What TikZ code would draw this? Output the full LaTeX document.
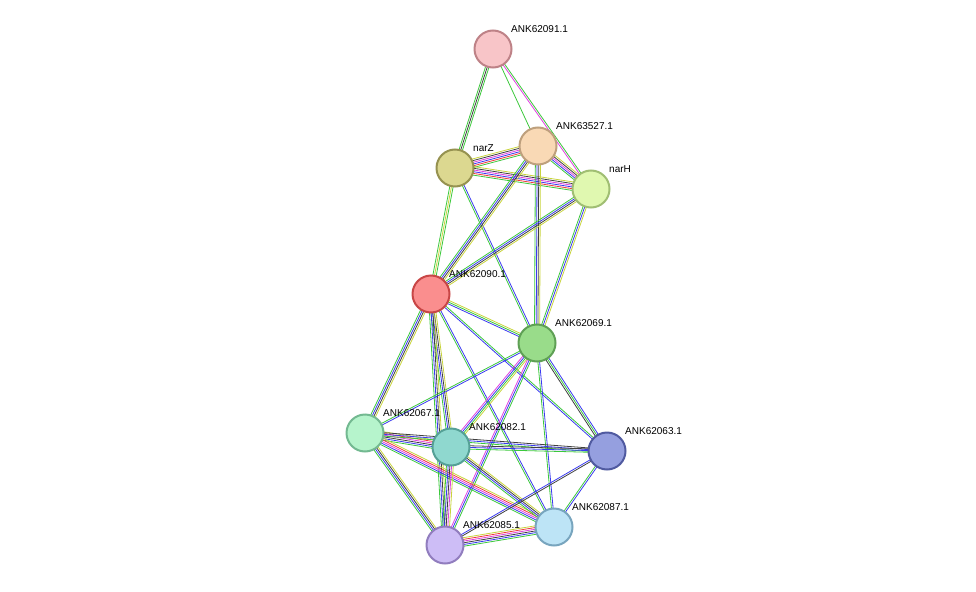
\documentclass[tikz,border=0pt]{standalone}
\usepackage{fontspec}
\setmainfont{Liberation Sans}
\usetikzlibrary{calc}
\definecolor{cg}{HTML}{3CC83C}
\definecolor{cb}{HTML}{3A3AF0}
\definecolor{cy}{HTML}{C8D43C}
\definecolor{cm}{HTML}{E040E0}
\definecolor{cr}{HTML}{F03C3C}
\definecolor{ck}{HTML}{404040}
\tikzset{prot/.style={circle,minimum size=37pt,inner sep=0pt,line width=2pt},
 lab/.style={anchor=south west,font=\fontsize{10}{11}\selectfont,inner sep=0pt},
 ln/.style={line width=0.8pt}}
\newcommand\edg[3]{%
 \foreach \c [count=\i] in {#3}{\xdef\nn{\i}}%
 \foreach \c [count=\i] in {#3}{\pgfmathsetmacro\o{(\i-(\nn+1)/2)*1.7}%
  \draw[ln,color=c\c] ($(#1)!\o pt!90:(#2)$) -- ($(#2)!\o pt!-90:(#1)$);}}
\begin{document}
\begin{tikzpicture}[x=1pt,y=-1pt]
\useasboundingbox (0,0) rectangle (976,591);
\coordinate (A) at (493,49);
\coordinate (Z) at (455,168);
\coordinate (P) at (538,146);
\coordinate (H) at (591,189);
\coordinate (N) at (431,294);
\coordinate (S) at (537,343);
\coordinate (T) at (365,433);
\coordinate (E) at (451,447);
\coordinate (D) at (607,451);
\coordinate (F) at (554,527);
\coordinate (G) at (445,545);
\edg{A}{Z}{g,k,g}
\edg{A}{P}{g}
\edg{A}{H}{m,g}
\edg{Z}{P}{g,r,b,m,k,y}
\edg{Z}{H}{g,r,b,m,k,y}
\edg{P}{H}{g,b,m,k,y}
\edg{Z}{N}{g,y,g}
\edg{Z}{S}{g,b}
\edg{P}{N}{g,b,k,y}
\edg{P}{S}{g,b,k,y}
\edg{H}{N}{g,b,k,y}
\edg{H}{S}{g,b,y}
\edg{N}{S}{b,g,y}
\edg{N}{T}{g,b,k,y}
\edg{N}{E}{g,b,k,y}
\edg{N}{G}{g,b,k,y}
\edg{N}{D}{b,g}
\edg{N}{F}{g,b}
\edg{S}{T}{g,b}
\edg{S}{E}{m,b,g,y}
\edg{S}{G}{m,b,g}
\edg{S}{D}{k,g,b}
\edg{S}{F}{g,b}
\edg{T}{E}{g,b,k,m,r,y}
\edg{T}{D}{g,b,k}
\edg{T}{G}{g,b,k,y}
\edg{T}{F}{g,b,m,r,y}
\edg{E}{D}{g,b,k}
\edg{E}{G}{g,b,k,m,y}
\edg{E}{F}{g,b,k,y}
\edg{G}{F}{g,b,k,m,r,y}
\edg{G}{D}{k,b}
\edg{F}{D}{b,g}
\node[prot,fill={rgb,255:red,248;green,197;blue,200},draw={rgb,255:red,190;green,130;blue,135}] (nA) at (A) {};
\node[prot,fill={rgb,255:red,220;green,216;blue,144},draw={rgb,255:red,150;green,146;blue,80}] (nZ) at (Z) {};
\node[prot,fill={rgb,255:red,249;green,217;blue,181},draw={rgb,255:red,190;green,160;blue,125}] (nP) at (P) {};
\node[prot,fill={rgb,255:red,224;green,248;blue,176},draw={rgb,255:red,160;green,190;blue,115}] (nH) at (H) {};
\node[prot,fill={rgb,255:red,250;green,142;blue,142},draw={rgb,255:red,200;green,70;blue,70}] (nN) at (N) {};
\node[prot,fill={rgb,255:red,153;green,220;blue,138},draw={rgb,255:red,95;green,160;blue,85}] (nS) at (S) {};
\node[prot,fill={rgb,255:red,182;green,244;blue,204},draw={rgb,255:red,115;green,185;blue,145}] (nT) at (T) {};
\node[prot,fill={rgb,255:red,143;green,216;blue,207},draw={rgb,255:red,85;green,160;blue,150}] (nE) at (E) {};
\node[prot,fill={rgb,255:red,149;green,159;blue,223},draw={rgb,255:red,80;green,90;blue,160}] (nD) at (D) {};
\node[prot,fill={rgb,255:red,189;green,228;blue,246},draw={rgb,255:red,120;green,165;blue,190}] (nF) at (F) {};
\node[prot,fill={rgb,255:red,205;green,189;blue,246},draw={rgb,255:red,145;green,125;blue,190}] (nG) at (G) {};
\node[lab] (lA) at (511,33) {ANK62091.1};
\node[lab] (lZ) at (473,152) {narZ};
\node[lab] (lP) at (556,130) {ANK63527.1};
\node[lab] (lH) at (609,173) {narH};
\node[lab] (lN) at (449,278) {ANK62090.1};
\node[lab] (lS) at (555,327) {ANK62069.1};
\node[lab] (lT) at (383,417) {ANK62067.1};
\node[lab] (lE) at (469,431) {ANK62082.1};
\node[lab] (lD) at (625,435) {ANK62063.1};
\node[lab] (lF) at (572,511) {ANK62087.1};
\node[lab] (lG) at (463,529) {ANK62085.1};
\end{tikzpicture}
\end{document}
